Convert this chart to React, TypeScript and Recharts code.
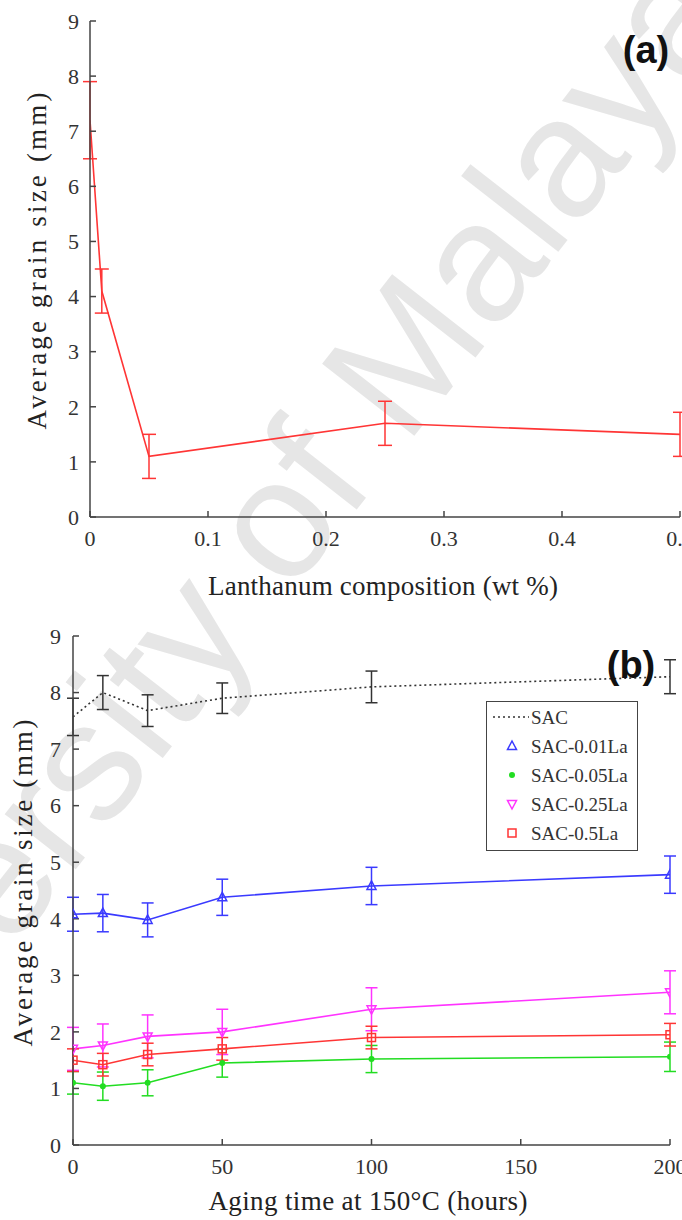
import React from 'react';
import { ErrorBar, Label, Legend, Line, LineChart, XAxis, YAxis } from 'recharts';

// (a) grain size vs lanthanum content
const composition = [0, 0.01, 0.05, 0.25, 0.5];
const grainA = [7.2, 4.1, 1.1, 1.7, 1.5];
const grainAErr = [0.7, 0.4, 0.4, 0.4, 0.4];
const compTicks = [0, 0.1, 0.2, 0.3, 0.4, 0.5];
const sizeTicks = [0, 1, 2, 3, 4, 5, 6, 7, 8, 9];

// (b) grain size vs aging time at 150 C
const agingHours = [0, 10, 25, 50, 100, 200];
const hourTicks = [0, 50, 100, 150, 200];
const sacMean = [7.57, 8.0, 7.68, 7.9, 8.1, 8.28];
const sacErr = [0.33, 0.3, 0.28, 0.27, 0.28, 0.3];
const la001Mean = [4.08, 4.1, 3.98, 4.38, 4.58, 4.78];
const la001Err = [0.3, 0.33, 0.3, 0.32, 0.33, 0.33];
const la005Mean = [1.1, 1.04, 1.1, 1.45, 1.52, 1.56];
const la005Err = [0.2, 0.25, 0.23, 0.25, 0.24, 0.26];
const la025Mean = [1.7, 1.76, 1.92, 2.0, 2.4, 2.7];
const la025Err = [0.38, 0.38, 0.38, 0.4, 0.38, 0.38];
const la05Mean = [1.5, 1.42, 1.6, 1.7, 1.9, 1.95];
const la05Err = [0.2, 0.2, 0.2, 0.2, 0.2, 0.2];

const SERIF = "'Liberation Serif', 'Times New Roman', serif";
const AXIS = { stroke: '#444', strokeWidth: 1.5 };
const TICK = { fill: '#333', fontSize: 22, fontFamily: SERIF };

const dataA = composition.map((c, i) => ({ c, size: grainA[i], err: grainAErr[i] }));

const dataB = agingHours.map((t, i) => ({
  t,
  sac: sacMean[i],
  sacErr: sacErr[i],
  la001: la001Mean[i],
  la001Err: la001Err[i],
  la005: la005Mean[i],
  la005Err: la005Err[i],
  la025: la025Mean[i],
  la025Err: la025Err[i],
  la05: la05Mean[i],
  la05Err: la05Err[i],
}));

type Shape = 'none' | 'up' | 'down' | 'dot' | 'square';

const MARKERS: Record<string, Shape> = {
  sac: 'none',
  la001: 'up',
  la005: 'dot',
  la025: 'down',
  la05: 'square',
};

const marker = (shape: Shape, color: string, cx: number, cy: number, key?: string) => {
  if (shape === 'up')
    return <polygon key={key} points={`${cx},${cy - 5} ${cx - 4.5},${cy + 3.5} ${cx + 4.5},${cy + 3.5}`} fill="none" stroke={color} strokeWidth={1.5} />;
  if (shape === 'down')
    return <polygon key={key} points={`${cx},${cy + 5} ${cx - 4.5},${cy - 3.5} ${cx + 4.5},${cy - 3.5}`} fill="none" stroke={color} strokeWidth={1.5} />;
  if (shape === 'square')
    return <rect key={key} x={cx - 4} y={cy - 4} width={8} height={8} fill="none" stroke={color} strokeWidth={1.5} />;
  if (shape === 'dot') return <circle key={key} cx={cx} cy={cy} r={3} fill={color} />;
  return <g key={key} />;
};

const dotFor = (shape: Shape, color: string) => (p: any) => {
  const key = `m-${shape}-${p.index}`;
  if (p.cx == null || p.cy == null) return <g key={key} />;
  return marker(shape, color, p.cx, p.cy, key);
};

const titleA = {
  x: () => (
    <text x={383} y={595} textAnchor="middle" fontSize={27} fontFamily={SERIF} fill="#222" textLength={350} lengthAdjust="spacing">
      Lanthanum composition (wt %)
    </text>
  ),
  y: () => (
    <text x={46} y={261} transform="rotate(-90 46 261)" textAnchor="middle" fontSize={27} fontFamily={SERIF} fill="#222" textLength={337} lengthAdjust="spacing">
      Average grain size (mm)
    </text>
  ),
};

const titleB = {
  x: () => (
    <text x={368} y={600} textAnchor="middle" fontSize={27} fontFamily={SERIF} fill="#222" textLength={319} lengthAdjust="spacing">
      Aging time at 150°C (hours)
    </text>
  ),
  y: () => (
    <text x={32} y={273} transform="rotate(-90 32 273)" textAnchor="middle" fontSize={27} fontFamily={SERIF} fill="#222" textLength={327} lengthAdjust="spacing">
      Average grain size (mm)
    </text>
  ),
};

const LegendBox = ({ payload }: any) => {
  const items = (payload || []) as Array<{ value: string; color: string; dataKey: string }>;
  return (
    <div style={{ width: 152, height: 150, boxSizing: 'border-box', border: '1.5px solid #444', background: '#fff' }}>
      <svg width={149} height={147}>
        {items.map((it, i) => {
          const y = 15 + i * 29;
          const shape = MARKERS[String(it.dataKey)] ?? 'none';
          return (
            <g key={it.value}>
              {shape === 'none' ? (
                <line x1={6} x2={42} y1={y} y2={y} stroke={it.color} strokeWidth={1.5} strokeDasharray="2 3" />
              ) : (
                marker(shape, it.color, 25, y)
              )}
              <text x={44} y={y} dominantBaseline="central" fontSize={19} fontFamily={SERIF} fill="#333">
                {it.value}
              </text>
            </g>
          );
        })}
      </svg>
    </div>
  );
};

const ChartA = () => (
  <LineChart width={682} height={610} data={dataA} margin={{ top: 21, right: 2, bottom: 3, left: 0 }}>
    <XAxis
      dataKey="c"
      type="number"
      domain={[0, 0.5]}
      ticks={compTicks}
      interval={0}
      allowDataOverflow
      height={90}
      tickSize={-6}
      tickMargin={19}
      axisLine={AXIS}
      tickLine={AXIS}
      tick={TICK}
    >
      <Label content={titleA.x} />
    </XAxis>
    <XAxis xAxisId="top" orientation="top" type="number" domain={[0, 0.5]} ticks={compTicks} allowDataOverflow height={0} tick={false} tickSize={-6} axisLine={AXIS} tickLine={AXIS} />
    <YAxis
      type="number"
      domain={[0, 9]}
      ticks={sizeTicks}
      interval={0}
      allowDataOverflow
      width={90}
      tickSize={-6}
      tickMargin={17}
      axisLine={AXIS}
      tickLine={AXIS}
      tick={TICK}
    >
      <Label content={titleA.y} />
    </YAxis>
    <YAxis yAxisId="right" orientation="right" type="number" domain={[0, 9]} ticks={sizeTicks} allowDataOverflow width={0} tick={false} tickSize={-6} axisLine={AXIS} tickLine={AXIS} />
    <Line dataKey="size" stroke="#ff3535" strokeWidth={1.6} dot={false} isAnimationActive={false}>
      <ErrorBar dataKey="err" direction="y" width={7} stroke="#ff3535" strokeWidth={1.5} isAnimationActive={false} />
    </Line>
  </LineChart>
);

const ChartB = () => (
  <LineChart width={682} height={610} data={dataB} margin={{ top: 26, right: 12, bottom: 2, left: 0 }}>
    <XAxis
      dataKey="t"
      type="number"
      domain={[0, 200]}
      ticks={hourTicks}
      interval={0}
      allowDataOverflow
      height={73}
      tickSize={-6}
      tickMargin={19}
      axisLine={AXIS}
      tickLine={AXIS}
      tick={TICK}
    >
      <Label content={titleB.x} />
    </XAxis>
    <XAxis xAxisId="top" orientation="top" type="number" domain={[0, 200]} ticks={hourTicks} allowDataOverflow height={0} tick={false} tickSize={-6} axisLine={AXIS} tickLine={AXIS} />
    <YAxis
      type="number"
      domain={[0, 9]}
      ticks={sizeTicks}
      interval={0}
      allowDataOverflow
      width={73}
      tickSize={-6}
      tickMargin={18}
      axisLine={AXIS}
      tickLine={AXIS}
      tick={TICK}
    >
      <Label content={titleB.y} />
    </YAxis>
    <YAxis yAxisId="right" orientation="right" type="number" domain={[0, 9]} ticks={sizeTicks} allowDataOverflow width={0} tick={false} tickSize={-6} axisLine={AXIS} tickLine={AXIS} />
    <Legend layout="vertical" align="center" verticalAlign="middle" content={<LegendBox />} wrapperStyle={{ left: 486, top: 91, width: 152, height: 150 }} />
    <Line name="SAC" dataKey="sac" stroke="#333" strokeWidth={1.6} strokeDasharray="2 3" dot={false} isAnimationActive={false}>
      <ErrorBar dataKey="sacErr" direction="y" width={6} stroke="#333" strokeWidth={1.5} isAnimationActive={false} />
    </Line>
    <Line name="SAC-0.01La" dataKey="la001" stroke="#3a3aff" strokeWidth={1.6} dot={dotFor('up', '#3a3aff')} isAnimationActive={false}>
      <ErrorBar dataKey="la001Err" direction="y" width={6} stroke="#3a3aff" strokeWidth={1.5} isAnimationActive={false} />
    </Line>
    <Line name="SAC-0.05La" dataKey="la005" stroke="#22dd22" strokeWidth={1.6} dot={dotFor('dot', '#22dd22')} isAnimationActive={false}>
      <ErrorBar dataKey="la005Err" direction="y" width={6} stroke="#22dd22" strokeWidth={1.5} isAnimationActive={false} />
    </Line>
    <Line name="SAC-0.25La" dataKey="la025" stroke="#ff33ff" strokeWidth={1.6} dot={dotFor('down', '#ff33ff')} isAnimationActive={false}>
      <ErrorBar dataKey="la025Err" direction="y" width={6} stroke="#ff33ff" strokeWidth={1.5} isAnimationActive={false} />
    </Line>
    <Line name="SAC-0.5La" dataKey="la05" stroke="#ff3535" strokeWidth={1.6} dot={dotFor('square', '#ff3535')} isAnimationActive={false}>
      <ErrorBar dataKey="la05Err" direction="y" width={6} stroke="#ff3535" strokeWidth={1.5} isAnimationActive={false} />
    </Line>
  </LineChart>
);

export default function App() {
  return (
    <div style={{ position: 'absolute', left: 0, top: 0, width: 682, height: 1220, background: '#fff', overflow: 'hidden' }}>
      {/* watermark behind the plots */}
      <svg width={682} height={1220} style={{ position: 'absolute', left: 0, top: 0 }}>
        <text
          x={272}
          y={618}
          transform="rotate(-52 272 618)"
          textAnchor="middle"
          fontSize={170}
          fontFamily="'Liberation Sans', Arial, sans-serif"
          fill="#e6e6e6"
        >
          University of Malaya
        </text>
      </svg>
      <div style={{ position: 'absolute', left: 0, top: 0 }}>
        <ChartA />
      </div>
      <div style={{ position: 'absolute', left: 0, top: 610 }}>
        <ChartB />
      </div>
      <svg width={682} height={1220} style={{ position: 'absolute', left: 0, top: 0, pointerEvents: 'none' }}>
        <text x={646} y={63} textAnchor="middle" fontSize={38} fontWeight="bold" fontFamily="'Liberation Sans Narrow', 'Liberation Sans', Arial, sans-serif" fill="#111">
          (a)
        </text>
        <text x={631} y={678} textAnchor="middle" fontSize={38} fontWeight="bold" fontFamily="'Liberation Sans Narrow', 'Liberation Sans', Arial, sans-serif" fill="#111">
          (b)
        </text>
      </svg>
    </div>
  );
}
